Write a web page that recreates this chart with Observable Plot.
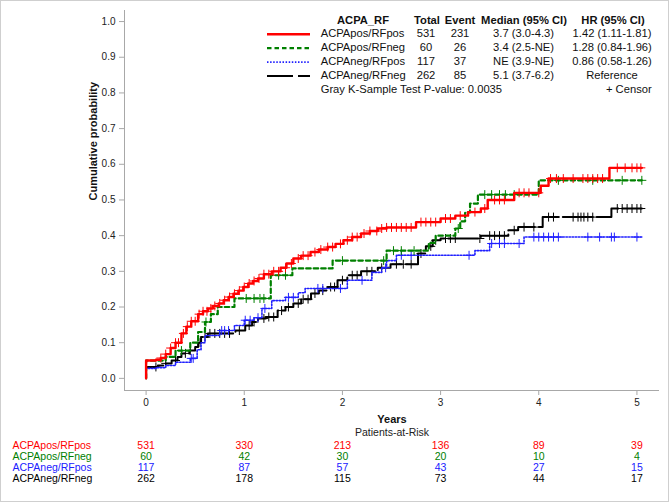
<!DOCTYPE html>
<html><head><meta charset="utf-8">
<script src="https://cdn.jsdelivr.net/npm/d3@7"></script>
<script src="https://cdn.jsdelivr.net/npm/@observablehq/plot@0.6"></script>
<style>
body{margin:0;background:#fff;}
#wrap{position:relative;width:669px;height:502px;overflow:hidden;font-family:"Liberation Sans",Arial,sans-serif;background:#fff;}
#chart{position:absolute;left:0;top:0;}
#border{position:absolute;left:0;top:0;width:669px;height:502px;box-sizing:border-box;border:1px solid #cfcfcf;pointer-events:none;}
#legend{position:absolute;left:0;top:0;width:669px;height:100px;font-size:11.2px;color:#111;}
.t{position:absolute;white-space:nowrap;line-height:1;}
</style></head>
<body><div id="wrap"><div id="chart"></div><div id="legend"></div><div id="border"></div></div>
<script>
// ---------- data ----------
const groups = ["ACPApos/RFpos","ACPApos/RFneg","ACPAneg/RFpos","ACPAneg/RFneg"];
const colors = ["#ff0000","#008000","#2020ff","#000000"];
const totals = [531,60,117,262];
const events = [231,26,37,85];
const medians = ["3.7 (3.0-4.3)","3.4 (2.5-NE)","NE (3.9-NE)","5.1 (3.7-6.2)"];
const hrs = ["1.42 (1.11-1.81)","1.28 (0.84-1.96)","0.86 (0.58-1.26)","Reference"];
const legendHeader = ["ACPA_RF","Total","Event","Median (95% CI)","HR (95% CI)"];
const pValueText = "Gray K-Sample Test P-value: 0.0035";
const censorText = "+ Censor";

const xTicks = [0,1,2,3,4,5];
const yTicks = [0.0,0.1,0.2,0.3,0.4,0.5,0.6,0.7,0.8,0.9,1.0];
const xDomain = [-0.22, 5.23];
const yDomain = [-0.034, 1.031];

const riskTimes = [0,1,2,3,4,5];
const riskPosPos = [531,330,213,136,89,39];
const riskPosNeg = [60,42,30,20,10,4];
const riskNegPos = [117,87,57,43,27,15];
const riskNegNeg = [262,178,115,73,44,17];

// cumulative incidence steps [years, probability]
const stepsPosPos = [[0,0],[0,0.05],[0.1,0.052],[0.15,0.057],[0.2,0.068],[0.25,0.085],[0.3,0.1],[0.36,0.126],[0.41,0.145],[0.46,0.16],[0.53,0.18],[0.58,0.188],[0.63,0.196],[0.68,0.203],[0.74,0.21],[0.79,0.219],[0.84,0.228],[0.89,0.237],[0.94,0.246],[0.99,0.256],[1.04,0.266],[1.09,0.273],[1.14,0.28],[1.2,0.292],[1.28,0.3],[1.37,0.31],[1.43,0.322],[1.5,0.336],[1.58,0.344],[1.675,0.354],[1.76,0.361],[1.85,0.368],[1.93,0.377],[2.01,0.387],[2.1,0.396],[2.19,0.406],[2.28,0.413],[2.36,0.42],[2.45,0.423],[2.75,0.438],[3.0,0.448],[3.15,0.456],[3.28,0.466],[3.41,0.476],[3.48,0.5],[3.75,0.52],[4.02,0.54],[4.1,0.56],[4.72,0.59],[5.05,0.59]];
const stepsPosNeg = [[0,0],[0,0.05],[0.2,0.06],[0.3,0.078],[0.45,0.1],[0.53,0.13],[0.6,0.158],[0.66,0.18],[0.73,0.2],[0.9,0.224],[1.27,0.289],[1.49,0.308],[1.9,0.33],[2.45,0.358],[2.88,0.38],[2.95,0.4],[3.15,0.42],[3.2,0.44],[3.25,0.465],[3.3,0.49],[3.38,0.515],[4.0,0.555],[5.05,0.555]];
const stepsNegPos = [[0,0],[0,0.028],[0.1,0.03],[0.2,0.036],[0.3,0.045],[0.45,0.056],[0.52,0.08],[0.56,0.1],[0.6,0.12],[0.75,0.134],[0.9,0.148],[1.0,0.163],[1.1,0.17],[1.18,0.196],[1.28,0.218],[1.42,0.227],[1.55,0.24],[1.62,0.252],[2.05,0.275],[2.3,0.297],[2.4,0.31],[2.45,0.33],[2.55,0.345],[3.35,0.358],[3.5,0.378],[3.85,0.396],[5.05,0.396]];
const stepsNegNeg = [[0,0],[0,0.032],[0.12,0.036],[0.2,0.042],[0.26,0.05],[0.32,0.06],[0.36,0.07],[0.44,0.078],[0.5,0.088],[0.53,0.1],[0.56,0.116],[0.63,0.126],[0.91,0.134],[1.01,0.148],[1.08,0.158],[1.14,0.168],[1.22,0.172],[1.34,0.19],[1.42,0.2],[1.5,0.21],[1.58,0.222],[1.68,0.238],[1.76,0.246],[1.85,0.256],[1.95,0.275],[2.05,0.289],[2.19,0.3],[2.36,0.31],[2.49,0.32],[2.77,0.35],[2.85,0.37],[2.92,0.387],[3.0,0.392],[3.41,0.4],[3.69,0.415],[3.79,0.424],[4.04,0.452],[4.74,0.476],[5.05,0.476]];

// censor times (years)
const censorPosPos = [0.15,0.2,0.25,0.3,0.33,0.38,0.42,0.46,0.5,0.54,0.58,0.62,0.66,0.7,0.75,0.8,0.85,0.9,0.95,1.0,1.05,1.1,1.15,1.2,1.25,1.3,1.35,1.42,1.48,1.55,1.6,1.65,1.72,1.78,1.85,1.9,1.98,2.05,2.1,2.15,2.22,2.28,2.35,2.4,2.45,2.5,2.55,2.6,2.65,2.7,2.8,2.85,2.9,2.95,3.05,3.1,3.2,3.35,3.45,3.55,3.6,3.65,3.8,3.85,3.9,4.0,4.12,4.18,4.25,4.35,4.45,4.5,4.55,4.6,4.65,4.8,4.88,4.95,5.0,5.04];
const censorPosNeg = [0.36,0.61,1.02,1.1,1.16,1.2,1.35,1.42,2.0,2.42,2.52,2.6,2.73,3.18,3.45,3.52,3.6,3.66,3.75,4.2,4.55,4.85,5.05];
const censorNegPos = [0.46,0.48,0.77,0.8,0.84,1.01,1.06,1.14,1.21,1.45,1.5,1.75,1.8,1.98,2.2,2.44,2.6,2.7,3.29,3.52,3.6,3.65,3.8,3.95,4.0,4.05,4.1,4.15,4.2,4.5,4.62,4.74,4.77,5.0];
const censorNegNeg = [0.1,0.2,0.3,0.4,0.45,0.55,0.6,0.65,0.7,0.75,0.8,0.85,0.95,1.05,1.1,1.2,1.25,1.3,1.38,1.45,1.55,1.6,1.65,1.72,1.8,1.88,1.92,2.0,2.1,2.15,2.25,2.3,2.4,2.55,2.62,2.7,2.8,2.9,2.95,3.05,3.1,3.15,3.4,3.5,3.55,3.6,3.65,3.75,3.85,3.95,4.1,4.15,4.35,4.4,4.43,4.46,4.5,4.55,4.8,4.85,4.9,4.95,5.0,5.04];

const allSteps = [stepsPosPos, stepsPosNeg, stepsNegPos, stepsNegNeg];
const allCensor = [censorPosPos, censorPosNeg, censorNegPos, censorNegNeg];
const allRisk = [riskPosPos, riskPosNeg, riskNegPos, riskNegNeg];
const dashes = [null, "4.5,3", "1.5,1.6", "30,4"];
const widths = [2.4, 2.2, 1.6, 2.0];

// ---------- helpers ----------
function stepAt(steps, t) {
  let v = steps[0][1];
  for (const [st, sp] of steps) { if (st <= t) v = sp; else break; }
  return v;
}

// ---------- plot ----------
const marks = [];
marks.push(Plot.ruleX([xDomain[0]], {stroke: "#a8a8a8"}));
marks.push(Plot.ruleY([yDomain[0]], {stroke: "#a8a8a8"}));
marks.push(Plot.axisX({ticks: xTicks, tickSize: 5, tickPadding: 3, stroke: "#a8a8a8", fill: "#222", fontSize: 10, label: null, tickFormat: d3.format("d")}));
marks.push(Plot.axisY({ticks: yTicks, tickSize: 5, tickPadding: 4, stroke: "#a8a8a8", fill: "#222", fontSize: 10, label: null, tickFormat: d3.format(".1f")}));

const drawOrder = [3, 2, 1, 0];
for (const i of drawOrder) {
  const line = allSteps[i].map(([t, p]) => ({t, p}));
  const opts = {x: "t", y: "p", curve: "step-after", stroke: colors[i], strokeWidth: widths[i]};
  if (dashes[i]) opts.strokeDasharray = dashes[i];
  marks.push(Plot.line(line, opts));
  const cens = allCensor[i].map(t => ({t, p: stepAt(allSteps[i], t)}));
  marks.push(Plot.dot(cens, {x: "t", y: "p", symbol: "plus", r: 3, stroke: colors[i], strokeWidth: 1}));
}

// risk table
const rowGap = 11.3;
for (let i = 0; i < groups.length; i++) {
  const rows = riskTimes.map((t, j) => ({t, n: allRisk[i][j]}));
  marks.push(Plot.text(rows, {x: "t", text: d => String(d.n), frameAnchor: "bottom", dy: 58 + rowGap * i, fill: colors[i], fontSize: 10.5}));
  marks.push(Plot.text([groups[i]], {text: d => d, frameAnchor: "bottom-left", dx: -112, dy: 58 + rowGap * i, textAnchor: "start", fill: colors[i], fontSize: 10.5}));
}
marks.push(Plot.text(["Years"], {text: d => d, frameAnchor: "bottom", dy: 32, fontWeight: "bold", fontSize: 11, fill: "#111"}));
marks.push(Plot.text(["Patients-at-Risk"], {text: d => d, frameAnchor: "bottom", dy: 45.5, fontSize: 10.5, fill: "#222"}));
marks.push(Plot.text(["Cumulative probability"], {text: d => d, frameAnchor: "left", dx: -31, rotate: -90, fontWeight: "bold", fontSize: 11, fill: "#111"}));

const chart = Plot.plot({
  width: 669, height: 502,
  marginLeft: 124, marginRight: 10, marginTop: 10, marginBottom: 112,
  x: {domain: xDomain},
  y: {domain: yDomain},
  style: {fontFamily: "'Liberation Sans', Arial, sans-serif", fontSize: "10px", background: "transparent", color: "#222", overflow: "visible"},
  marks
});
document.getElementById("chart").appendChild(chart);

// ---------- legend ----------
const lg = document.getElementById("legend");
function addText(txt, x, y, align, bold, color) {
  const el = document.createElement("div");
  el.className = "t";
  el.textContent = txt;
  el.style.left = x + "px";
  el.style.top = y + "px";
  const tx = align === "center" ? "-50%" : align === "right" ? "-100%" : "0";
  el.style.transform = `translate(${tx}, -50%)`;
  if (bold) el.style.fontWeight = "bold";
  if (color) el.style.color = color;
  lg.appendChild(el);
}
const headerX = [363, 427, 460, 524, 613];
legendHeader.forEach((h, k) => addText(h, headerX[k], 20.7, "center", true));
const svgNS = "http://www.w3.org/2000/svg";
const ls = document.createElementNS(svgNS, "svg");
ls.setAttribute("width", 669); ls.setAttribute("height", 100);
ls.style.position = "absolute"; ls.style.left = "0"; ls.style.top = "0";
lg.appendChild(ls);
groups.forEach((g, i) => {
  const y = 34.3 + 13.9 * i;
  const ln = document.createElementNS(svgNS, "line");
  ln.setAttribute("x1", 267); ln.setAttribute("x2", 310);
  ln.setAttribute("y1", y); ln.setAttribute("y2", y);
  ln.setAttribute("stroke", colors[i]);
  ln.setAttribute("stroke-width", widths[i]);
  if (dashes[i]) ln.setAttribute("stroke-dasharray", i === 3 ? "26,5" : dashes[i]);
  ls.appendChild(ln);
  addText(g, 320.7, y, "left");
  addText(String(totals[i]), 426, y, "center");
  addText(String(events[i]), 460, y, "center");
  addText(medians[i], 554, y, "right");
  addText(hrs[i], 612, y, "center");
});
addText(pValueText, 320.7, 90, "left");
addText(censorText, 651.7, 90, "right");
</script>
</body></html>
